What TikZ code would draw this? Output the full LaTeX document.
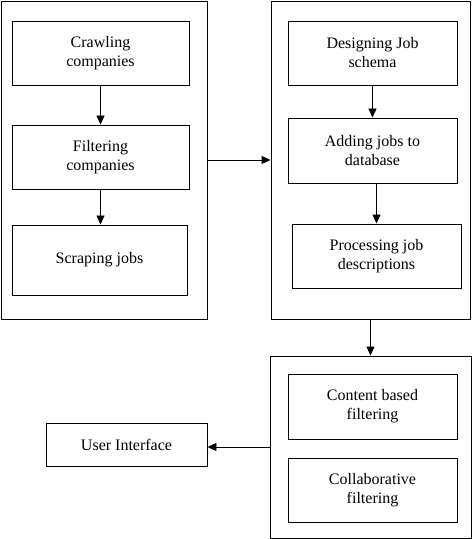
\documentclass[tikz,border=0pt]{standalone}
\usepackage{fontspec}
\setmainfont{Liberation Serif}
\usepackage{tikz}
\usetikzlibrary{arrows.meta, positioning}

\begin{document}
\begin{tikzpicture}[
  x=1bp, y=-1bp,
  every node/.style={font=\fontsize{16bp}{19bp}\selectfont},
  box/.style={rectangle, draw=black, fill=white, line width=0.9bp,
              align=center, inner sep=0pt},
  stage/.style={box, minimum width=169bp, minimum height=64bp},
  group/.style={rectangle, draw=black, line width=0.9bp, inner sep=0pt},
  arr/.style={-{Triangle[length=9bp, width=8bp]}, line width=0.9bp}
]
\useasboundingbox (0,0) rectangle (473,539);

% --- Outer groups ---
\node[group, minimum width=206bp, minimum height=318bp] (crawler)  at (104,160)   {};
\node[group, minimum width=199bp, minimum height=318bp] (jobs)     at (370.5,160) {};
\node[group, minimum width=201bp, minimum height=182bp] (recommend) at (370.5,447) {};

% --- Crawler (left column) ---
\node[stage, minimum width=177bp] (crawl)  at (100.5,53)  {Crawling\\companies};
\node[stage, minimum width=177bp] (filter) at (100.5,157) {Filtering\\companies};
\node[stage, minimum width=175bp, minimum height=70bp] (scrape) at (99.5,260) {Scraping jobs};

% --- Job processing (right column) ---
\node[stage] (design) at (372.5,53)  {Designing Job\\schema};
\node[stage, minimum height=65bp] (add) at (372.5,150.5) {Adding jobs to\\database};
\node[stage] (proc)   at (376.5,256) {Processing job\\descriptions};

% --- Recommendation ---
\node[stage, minimum height=65bp] (content) at (372.5,406.5) {Content based\\filtering};
\node[stage] (collab) at (372.5,490) {Collaborative\\filtering};

% --- Front end ---
\node[box, minimum width=161bp, minimum height=43bp] (ui) at (126.5,444.5) {User Interface};

% --- Arrows ---
\draw[arr] (crawl.south)  -- (filter.north);
\draw[arr] (filter.south) -- (filter.south |- scrape.north);
\draw[arr] (design.south) -- (add.south |- add.north);
\draw[arr] (add.south -| proc) -- (proc.north);
\draw[arr] (crawler.east) -- (jobs.west);
\draw[arr] (jobs.south)   -- (recommend.north);
\draw[arr] (recommend.west) -- (recommend.west -| ui.east);

\end{tikzpicture}
\end{document}
